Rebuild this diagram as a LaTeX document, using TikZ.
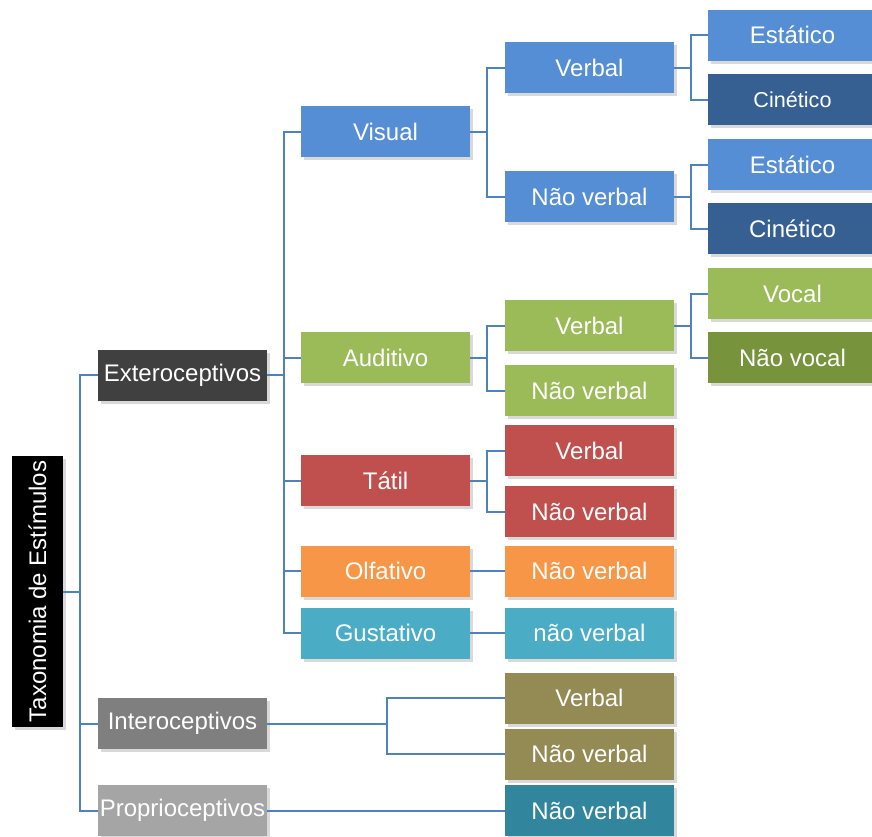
\documentclass[tikz,border=0pt]{standalone}
\usepackage{fontspec}
\setmainfont{Liberation Sans}
\usetikzlibrary{shadows}
\definecolor{linkblue}{HTML}{4F81BD}
\definecolor{extgray}{HTML}{404040}
\definecolor{intgray}{HTML}{7F7F7F}
\definecolor{progray}{HTML}{A5A5A5}
\definecolor{visblue}{HTML}{558ED5}
\definecolor{darkblue}{HTML}{376092}
\definecolor{audgreen}{HTML}{9BBB59}
\definecolor{darkgreen}{HTML}{77933C}
\definecolor{tatred}{HTML}{C0504D}
\definecolor{olforange}{HTML}{F79646}
\definecolor{guscyan}{HTML}{4BACC6}
\definecolor{intolive}{HTML}{948A54}
\definecolor{proteal}{HTML}{31859C}

\begin{document}
\begin{tikzpicture}[x=0.5pt, y=-0.5pt,
  box/.style={rectangle, fill=#1, text=white, minimum width=84.5pt,
    minimum height=25.5pt, inner sep=0pt, font=\fontsize{12}{14}\selectfont,
    drop shadow={shadow xshift=1.5pt, shadow yshift=-1.5pt, opacity=0.3}},
  leaf/.style={box=#1},
  link/.style={draw=linkblue, line width=1pt}]
  \useasboundingbox (0,0) rectangle (872,836);
  % root
  \node[box=black, minimum width=25.5pt, minimum height=135.5pt] (root) at (37.5,591.5)
    {\rotatebox{90}{Taxonomia de Estímulos}};
  % first level
  \node[box=extgray] (ext) at (182.5,375) {Exteroceptivos};
  \node[box=intgray] (inter) at (182.5,723.5) {Interoceptivos};
  \node[box=progray] (prop) at (182.5,810.5) {Proprioceptivos};
  % senses
  \node[box=visblue] (vis) at (385.5,131.5) {Visual};
  \node[box=audgreen] (aud) at (385.5,357.5) {Auditivo};
  \node[box=tatred] (tat) at (385.5,480.5) {Tátil};
  \node[box=olforange] (olf) at (385.5,571) {Olfativo};
  \node[box=guscyan] (gus) at (385.5,633) {Gustativo};
  % verbal / nao verbal
  \node[box=visblue] (visV) at (589.5,67.5) {Verbal};
  \node[box=visblue] (visN) at (589.5,196.5) {Não verbal};
  \node[box=audgreen] (audV) at (589.5,325.5) {Verbal};
  \node[box=audgreen] (audN) at (589.5,390.5) {Não verbal};
  \node[box=tatred] (tatV) at (589.5,450.5) {Verbal};
  \node[box=tatred] (tatN) at (589.5,511.5) {Não verbal};
  \node[box=olforange] (olfN) at (589.5,571) {Não verbal};
  \node[box=guscyan] (gusN) at (589.5,633) {não verbal};
  \node[box=intolive] (intV) at (589.5,698) {Verbal};
  \node[box=intolive] (intN) at (589.5,754) {Não verbal};
  \node[box=proteal] (proN) at (589.5,810.5) {Não verbal};
  % leaves
  \node[leaf=visblue] (visVE) at (792.5,35) {Estático};
  \node[leaf=darkblue, font=\fontsize{10.8}{13}\selectfont] (visVC) at (792.5,99.5) {Cinético};
  \node[leaf=visblue] (visNE) at (792.5,164.5) {Estático};
  \node[leaf=darkblue] (visNC) at (792.5,228.5) {Cinético};
  \node[leaf=audgreen] (audVV) at (792.5,293.5) {Vocal};
  \node[leaf=darkgreen] (audVN) at (792.5,357.5) {Não vocal};
  % connectors
  \foreach \n in {ext,inter,prop}
    \draw[link] (root.east) -- ++(17,0) |- (\n.west);
  \foreach \n in {vis,aud,tat,olf,gus}
    \draw[link] (ext.east) -- ++(17,0) |- (\n.west);
  \foreach \n in {visV,visN}
    \draw[link] (vis.east) -- ++(17,0) |- (\n.west);
  \foreach \n in {audV,audN}
    \draw[link] (aud.east) -- ++(17,0) |- (\n.west);
  \foreach \n in {tatV,tatN}
    \draw[link] (tat.east) -- ++(17,0) |- (\n.west);
  \foreach \n in {visVE,visVC}
    \draw[link] (visV.east) -- ++(17,0) |- (\n.west);
  \foreach \n in {visNE,visNC}
    \draw[link] (visN.east) -- ++(17,0) |- (\n.west);
  \foreach \n in {audVV,audVN}
    \draw[link] (audV.east) -- ++(17,0) |- (\n.west);
  \foreach \n in {intV,intN}
    \draw[link] (inter.east) -- ++(120,0) |- (\n.west);
  \draw[link] (olf.east) -- (olfN.west);
  \draw[link] (gus.east) -- (gusN.west);
  \draw[link] (prop.east) -- (proN.west);
\end{tikzpicture}
\end{document}
